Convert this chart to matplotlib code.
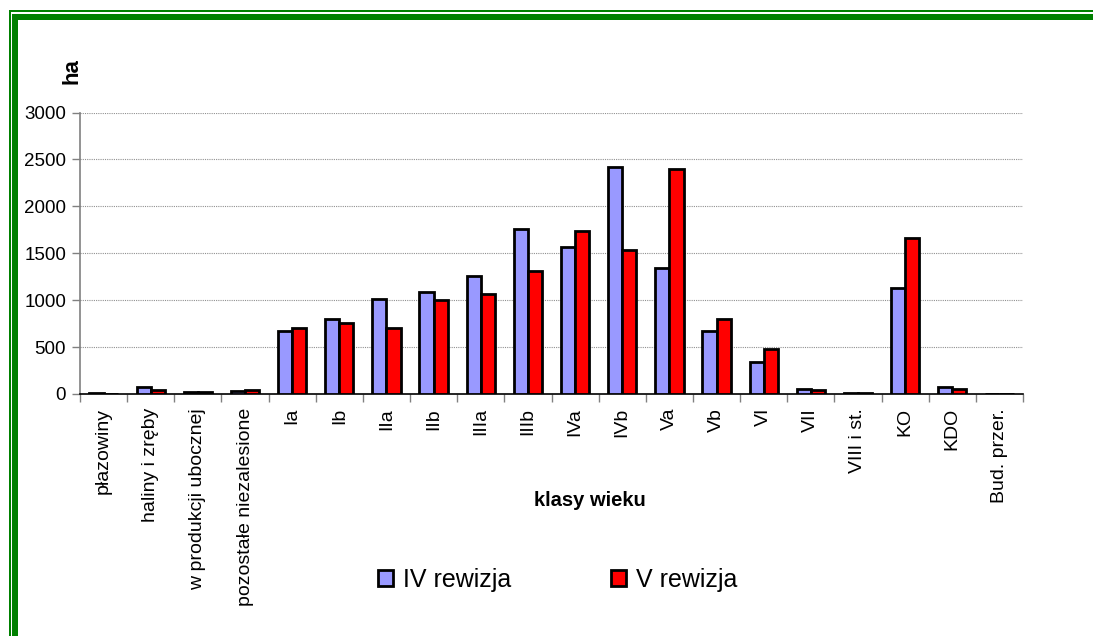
import numpy as np
import matplotlib
matplotlib.use("Agg")
import matplotlib.pyplot as plt
from matplotlib.patches import Rectangle

plt.rcParams['font.family'] = ['Liberation Sans', 'DejaVu Sans']

categories = ["płazowiny", "haliny i zręby", "w produkcji ubocznej", "pozostałe niezalesione",
              "Ia", "Ib", "IIa", "IIb", "IIIa", "IIIb", "IVa", "IVb", "Va", "Vb",
              "VI", "VII", "VIII i st.", "KO", "KDO", "Bud. przer."]
rew_iv = [15, 74, 20, 32, 675, 803, 1012, 1090, 1261, 1759, 1571, 2421, 1339, 673,
          342, 49, 12, 1128, 78, 0]
rew_v = [0, 43, 22, 39, 707, 754, 699, 997, 1068, 1307, 1734, 1534, 2393, 804,
         481, 38, 12, 1662, 57, 0]
series_names = ["IV rewizja", "V rewizja"]

W, H = 1093, 636
fig = plt.figure(figsize=(W / 100, H / 100), dpi=100)
ax = fig.add_axes([80 / W, 1 - 394 / H, 943 / W, (394 - 112.5) / H])

x = np.arange(len(categories))
bw = 0.3
ax.bar(x - bw / 2, rew_iv, bw, color="#9999FF", edgecolor="black", linewidth=2.0,
       label=series_names[0], zorder=3)
ax.bar(x + bw / 2, rew_v, bw, color="#FF0000", edgecolor="black", linewidth=2.0,
       label=series_names[1], zorder=3)

ax.set_xlim(-0.5, len(categories) - 0.5)
ax.set_ylim(0, 3000)
ax.set_yticks(range(0, 3001, 500))
ax.yaxis.grid(True, color="#909090", linestyle=(0, (1, 1)), linewidth=0.8)
ax.set_axisbelow(True)

ax.set_xticks(x)
ax.set_xticklabels(categories, rotation=90, fontsize=14)
ax.tick_params(axis="x", length=0, pad=10)
ax.set_xticks(np.arange(-0.5, len(categories), 1), minor=True)
ax.tick_params(axis="x", which="minor", length=6, color="#808080", width=1)
ax.tick_params(axis="y", labelsize=13.5, length=6, color="#808080", width=1, pad=4)

for s in ["top", "right"]:
    ax.spines[s].set_visible(False)
ax.spines["left"].set_color("#808080")
ax.spines["left"].set_linewidth(1.2)
ax.spines["bottom"].set_color("black")
ax.spines["bottom"].set_linewidth(1.2)

fig.text(72 / W, 1 - 71 / H, "ha", rotation=90, fontsize=16, fontweight="bold",
         ha="center", va="center")
fig.text(590 / W, 1 - 500 / H, "klasy wieku", fontsize=14.5, fontweight="bold",
         ha="center", va="center")

fig.legend(loc="center", bbox_to_anchor=(558 / W, 1 - 580 / H), ncol=2, frameon=False,
           fontsize=18, handlelength=0.6, handleheight=0.6, handletextpad=0.4,
           columnspacing=4.0)

# green frame
green = "#008000"
fig.add_artist(Rectangle((9 / W, 0), 2 / W, 1 - 10 / H, transform=fig.transFigure,
                         color=green, lw=0))
fig.add_artist(Rectangle((9 / W, 1 - 12 / H), 1, 2 / H, transform=fig.transFigure,
                         color=green, lw=0))
fig.add_artist(Rectangle((12 / W, 0), 6 / W, 1 - 14 / H, transform=fig.transFigure,
                         color=green, lw=0))
fig.add_artist(Rectangle((12 / W, 1 - 20 / H), 1, 6 / H, transform=fig.transFigure,
                         color=green, lw=0))

fig.savefig("out.png", dpi=100)
